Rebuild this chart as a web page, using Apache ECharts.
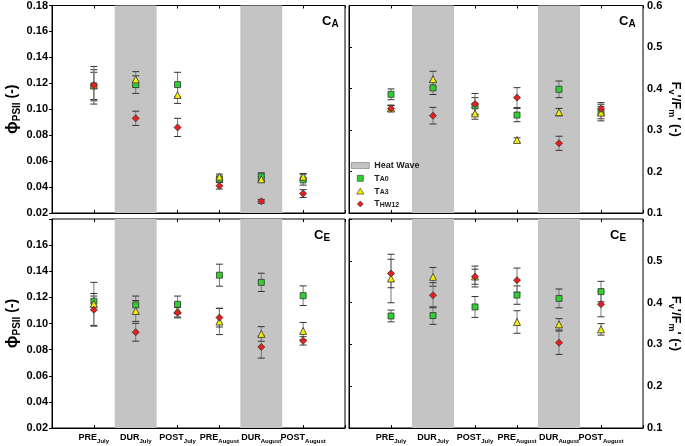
<!DOCTYPE html>
<html><head><meta charset="utf-8">
<script src="https://cdn.jsdelivr.net/npm/echarts@6/dist/echarts.min.js"></script>
<style>html,body{margin:0;padding:0;background:#fff}#c{width:685px;height:446px}</style>
</head><body><div id="c"></div>
<script>
// ---- categories ----
const catMain = ['PRE','DUR','POST','PRE','DUR','POST'];
const catSub  = ['July','July','July','August','August','August'];
const heatWaveIdx = [1, 4];           // DUR_July, DUR_August
const seriesNames = ['TA0','TA3','THW12'];
const seriesSub = ['A0','A3','HW12'];
const phiTicks = [0.02,0.04,0.06,0.08,0.10,0.12,0.14,0.16,0.18];
const fvTicks = [0.1,0.2,0.3,0.4,0.5,0.6];

// ---- ΦPSII, C_A ----
const phiCA_TA0    = [0.118, 0.119, 0.119, 0.046, 0.048, 0.0455];
const phiCA_TA0sd  = [0.0105,0.0068,0.0095,0.0025,0.003, 0.004];
const phiCA_TA3    = [0.1185,0.123, 0.111, 0.048, 0.046, 0.048];
const phiCA_TA3sd  = [0.012, 0.006, 0.0065,0.002, 0.002, 0.0025];
const phiCA_HW     = [0.1185,0.093, 0.086, 0.041, 0.029, 0.035];
const phiCA_HWsd   = [0.0145,0.0055,0.007, 0.0025,0.0015,0.003];
// ---- Fv'/Fm', C_A ----
const fvCA_TA0     = [0.386, 0.4015,0.358, 0.336, 0.398, 0.342];
const fvCA_TA0sd   = [0.013, 0.016, 0.020, 0.016, 0.020, 0.015];
const fvCA_TA3     = [0.352, 0.4225,0.340, 0.276, 0.343, 0.342];
const fvCA_TA3sd   = [0.008, 0.019, 0.014, 0.005, 0.009, 0.020];
const fvCA_HW      = [0.352, 0.3345,0.3625,0.378, 0.268, 0.351];
const fvCA_HWsd    = [0.007, 0.020, 0.0255,0.024, 0.017, 0.015];
// ---- ΦPSII, C_E ----
const phiCE_TA0    = [0.117, 0.1142,0.1147,0.137, 0.1315,0.1213];
const phiCE_TA0sd  = [0.004, 0.0068,0.0063,0.0084,0.007, 0.0075];
const phiCE_TA3    = [0.115, 0.1096,0.110, 0.1015,0.092, 0.0943];
const phiCE_TA3sd  = [0.0165,0.008, 0.005, 0.010, 0.0056,0.0065];
const phiCE_HW     = [0.1105,0.0933,0.1083,0.1045,0.082, 0.0867];
const phiCE_HWsd   = [0.0125,0.0068,0.004, 0.0072,0.0085,0.0032];
// ---- Fv'/Fm', C_E ----
const fvCE_TA0     = [0.368, 0.369, 0.3896,0.418, 0.410, 0.4264];
const fvCE_TA0sd   = [0.014, 0.021, 0.025, 0.022, 0.0225,0.0245];
const fvCE_TA3     = [0.4576,0.4616,0.4624,0.3536,0.348, 0.336];
const fvCE_TA3sd   = [0.058, 0.0225,0.025, 0.027, 0.0136,0.0138];
const fvCE_HW      = [0.4696,0.4176,0.462, 0.4536,0.304, 0.396];
const fvCE_HWsd    = [0.034, 0.030, 0.018, 0.029, 0.028, 0.030];

const FONT = '"Liberation Sans", Arial, sans-serif';
const colors = ['#2fd12f', '#f2f000', '#ee1c1c'];
const symbols = ['rect', 'triangle', 'diamond'];
const symSizes = [6, 7, 7];

const panels = [
  {kind:'phi', sub:'A', data:[[phiCA_TA0,phiCA_TA0sd],[phiCA_TA3,phiCA_TA3sd],[phiCA_HW,phiCA_HWsd]]},
  {kind:'fv',  sub:'A', data:[[fvCA_TA0,fvCA_TA0sd],[fvCA_TA3,fvCA_TA3sd],[fvCA_HW,fvCA_HWsd]]},
  {kind:'phi', sub:'E', data:[[phiCE_TA0,phiCE_TA0sd],[phiCE_TA3,phiCE_TA3sd],[phiCE_HW,phiCE_HWsd]]},
  {kind:'fv',  sub:'E', data:[[fvCE_TA0,fvCE_TA0sd],[fvCE_TA3,fvCE_TA3sd],[fvCE_HW,fvCE_HWsd]]}
];
const grids = [
  {left:52,  top:5,   width:293, height:208},
  {left:349, top:5,   width:294, height:208},
  {left:52,  top:219, width:293, height:209},
  {left:349, top:219, width:294, height:209}
];

const xAxes = [], yAxes = [], series = [];
const nCat = catMain.length;

grids.forEach((g, i) => {
  g.show = true; g.borderColor = '#000'; g.borderWidth = 1; g.backgroundColor = '#fff';
  const bottom = i >= 2;
  xAxes.push({
    type:'value', gridIndex:i, min:0, max:nCat+1, interval:1,
    axisLine:{show:true, lineStyle:{color:'#000'}},
    axisTick:{show:true, inside:true, length:3, lineStyle:{color:'#000'}},
    splitLine:{show:false},
    axisLabel:{show:bottom, margin:4, interval:0,
      formatter: v => (v >= 1 && v <= nCat) ? `{m|${catMain[v-1]}}{s|${catSub[v-1]}}` : '',
      rich:{
        m:{fontFamily:FONT, fontWeight:'bold', fontSize:9, color:'#000', lineHeight:12, verticalAlign:'middle'},
        s:{fontFamily:FONT, fontWeight:'bold', fontSize:6, color:'#000', lineHeight:6, verticalAlign:'bottom'}
      }}
  });
  const p = panels[i];
  const isPhi = p.kind === 'phi';
  const ticks = isPhi ? phiTicks : fvTicks;
  yAxes.push({
    type:'value', gridIndex:i,
    min: ticks[0], max: ticks[ticks.length-1], interval: ticks[1]-ticks[0],
    position: isPhi ? 'left' : 'right',
    axisLine:{show:true, lineStyle:{color:'#000'}},
    axisTick:{show:true, length:3, lineStyle:{color:'#000'}},
    splitLine:{show:false},
    axisLabel:{show:true, margin:4, fontFamily:FONT, fontWeight:'bold', fontSize:11, color:'#000',
      showMaxLabel: !bottom,
      formatter: v => isPhi ? v.toFixed(2) : v.toFixed(1)},
    nameLocation:'middle',
    nameRotate: isPhi ? 90 : -90,
    nameGap: isPhi ? 30 : 24,
    name: isPhi ? '{phi|ϕ}{s|PSII}{t| (-)}' : "{t|F}{s|v}{t|'/F}{s|m}{t|' (-)}",
    nameTextStyle:{ rich: isPhi ? {
        phi:{fontFamily:FONT, fontWeight:'bold', fontSize:17, color:'#000', lineHeight:20, verticalAlign:'middle'},
        s:{fontFamily:FONT, fontWeight:'bold', fontSize:10, color:'#000', lineHeight:10, verticalAlign:'bottom'},
        t:{fontFamily:FONT, fontWeight:'bold', fontSize:14, color:'#000', lineHeight:20, verticalAlign:'middle'}
      } : {
        s:{fontFamily:FONT, fontWeight:'bold', fontSize:9, color:'#000', lineHeight:9, verticalAlign:'bottom'},
        t:{fontFamily:FONT, fontWeight:'bold', fontSize:13, color:'#000', lineHeight:18, verticalAlign:'middle'}
      }}
  });
});
// mirrored decorative y axes (ticks on inner edges)
grids.forEach((g, i) => {
  const isPhi = panels[i].kind === 'phi';
  const ticks = isPhi ? phiTicks : fvTicks;
  yAxes.push({
    type:'value', gridIndex:i, min: ticks[0], max: ticks[ticks.length-1], interval: ticks[1]-ticks[0],
    position: isPhi ? 'right' : 'left',
    axisLine:{show:false}, axisLabel:{show:false}, splitLine:{show:false},
    axisTick:{show:true, inside:true, length:3, lineStyle:{color:'#000'}}
  });
});
// decorative top x axes
grids.forEach((g, i) => {
  xAxes.push({
    type:'value', gridIndex:i, min:0, max:nCat+1, interval:1, position:'top',
    axisLine:{show:false}, axisLabel:{show:false}, splitLine:{show:false},
    axisTick:{show:true, inside:true, length:3, lineStyle:{color:'#000'}}
  });
});

grids.forEach((g, i) => {
  // heat wave bands
  series.push({
    type:'custom', name:'Heat Wave', xAxisIndex:i, yAxisIndex:i, z:1, silent:true,
    itemStyle:{color:'#c4c4c4'},
    encode:{x:0},
    data: heatWaveIdx.map(k => [k+1]),
    renderItem(params, api){
      const x = api.value(0);
      const cs = params.coordSys;
      const a = api.coord([x-0.5, 0])[0], b = api.coord([x+0.5, 0])[0];
      return {type:'rect', shape:{x:a, y:cs.y, width:b-a, height:cs.height}, style:{fill:'#c4c4c4'}};
    }
  });
  const p = panels[i];
  // error bars
  p.data.forEach((d, si) => {
    series.push({
      type:'custom', name:seriesNames[si]+'-err', xAxisIndex:i, yAxisIndex:i, z:2, silent:true,
      encode:{x:0, y:1},
      data: d[0].map((m, k) => [k+1, m, d[1][k]]),
      renderItem(params, api){
        const x = api.value(0), m = api.value(1), s = api.value(2);
        const t = api.coord([x, m+s]), b = api.coord([x, m-s]);
        const hw = 3.5;
        return {type:'group', children:[
          {type:'line', shape:{x1:t[0], y1:t[1], x2:b[0], y2:b[1]}, style:{stroke:'#7a7a7a', lineWidth:1}},
          {type:'line', shape:{x1:t[0]-hw, y1:t[1], x2:t[0]+hw, y2:t[1]}, style:{stroke:'#333', lineWidth:1}},
          {type:'line', shape:{x1:b[0]-hw, y1:b[1], x2:b[0]+hw, y2:b[1]}, style:{stroke:'#333', lineWidth:1}}
        ]};
      }
    });
  });
  // markers
  p.data.forEach((d, si) => {
    series.push({
      type:'scatter', name:seriesNames[si], xAxisIndex:i, yAxisIndex:i, z:3,
      symbol:symbols[si], symbolSize:symSizes[si],
      itemStyle:{color:colors[si], borderColor:'#333', borderWidth:0.8, opacity:1},
      data: d[0].map((m, k) => [k+1, m])
    });
  });
});

const labelPos = [[322,15],[619,15],[314,229],[610,229]];
const graphic = panels.map((p, i) => ({
  type:'text', left:labelPos[i][0], top:labelPos[i][1], z:10,
  style:{text:`{c|C}{s|${p.sub}}`, rich:{
    c:{fontFamily:FONT, fontWeight:'bold', fontSize:13, fill:'#000', lineHeight:16, verticalAlign:'middle'},
    s:{fontFamily:FONT, fontWeight:'bold', fontSize:10, fill:'#000', lineHeight:10, verticalAlign:'bottom'}
  }}
}));

const option = {
  animation:false,
  textStyle:{fontFamily:FONT},
  grid: grids, xAxis: xAxes, yAxis: yAxes, series, graphic,
  legend:{
    orient:'vertical', left:346, top:156, itemWidth:18, itemHeight:6, itemGap:3.8,
    selectedMode:false,
    data:[
      {name:'Heat Wave', icon:'rect', itemStyle:{color:'#c4c4c4', borderColor:'#777', borderWidth:0.6}},
      {name:'TA0', icon:'path://M0,0L5,0L5,5L0,5Z', itemStyle:{color:colors[0], borderColor:'#333', borderWidth:0.6}},
      {name:'TA3', icon:'path://M3,0L6,5L0,5Z', itemStyle:{color:colors[1], borderColor:'#333', borderWidth:0.6}},
      {name:'THW12', icon:'path://M3,0L6,3L3,6L0,3Z', itemStyle:{color:colors[2], borderColor:'#333', borderWidth:0.6}}
    ],
    formatter: name => {
      const k = seriesNames.indexOf(name);
      return k < 0 ? `{h|${name}}` : `{m|T}{s|${seriesSub[k]}}`;
    },
    textStyle:{rich:{
      h:{fontFamily:FONT, fontWeight:'bold', fontSize:9, color:'#222', lineHeight:9},
      m:{fontFamily:FONT, fontWeight:'bold', fontSize:9, color:'#222', lineHeight:9, verticalAlign:'middle'},
      s:{fontFamily:FONT, fontWeight:'bold', fontSize:7, color:'#222', lineHeight:6, verticalAlign:'bottom'}
    }}
  }
};
const chart = echarts.init(document.getElementById('c'), null, {renderer:'canvas'});
chart.setOption(option);
</script></body></html>
